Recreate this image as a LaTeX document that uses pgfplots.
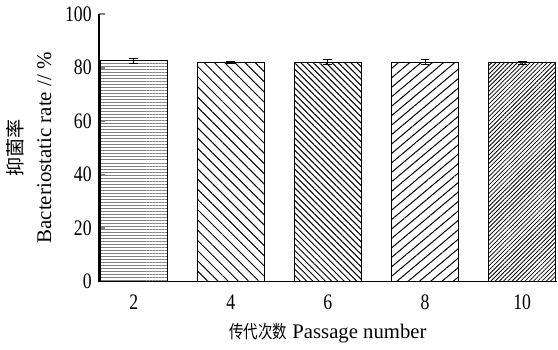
\documentclass[border=0pt]{standalone}
\usepackage{fontspec}
\setmainfont{Liberation Serif}
\newfontfamily\cjk{Noto Sans CJK SC}
\newfontfamily\cjknarrow[FakeStretch=0.8]{Noto Sans CJK SC}
\newfontfamily\myticks[FakeStretch=0.8]{Liberation Serif}
\usepackage{pgfplots}
\pgfplotsset{compat=1.18}
\usetikzlibrary{patterns.meta}
\begin{document}
\begin{tikzpicture}
\begin{axis}[
  scale only axis,
  width=228pt, height=133pt,
  xmin=-0.36, xmax=4.36,
  ymin=0, ymax=100,
  axis x line=bottom, axis y line=left,
  axis line style={line width=0.9pt,-},
  xtick={0,1,2,3,4},
  xticklabels={2,4,6,8,10},
  ytick={0,20,40,60,80,100},
  x tick style={draw=none},
  y tick style={line width=0.9pt},
  tick align=inside,
  major tick length=3pt,
  tick label style={font=\myticks\fontsize{11}{13}\selectfont},
  /pgf/number format/assume math mode=true,
  xlabel={{\cjknarrow\fontsize{9}{10}\selectfont 传代次数} Passage number},
  ylabel={{\cjk\fontsize{9.5}{12}\selectfont 抑菌率}\\[1pt]Bacteriostatic rate // \%},
  ylabel style={align=center, font=\fontsize{10.4}{13}\selectfont},
  xlabel style={font=\fontsize{10.3}{12}\selectfont},
  ybar, bar width=0.69, bar shift=0pt,
  every axis plot/.append style={draw=black, line width=0.5pt},
  error bars/error bar style={line width=0.5pt},
  error bars/error mark options={rotate=90, mark size=2.2pt, line width=0.5pt},
]
\addplot[pattern={Lines[angle=0,distance=1.5pt,line width=0.3pt]}, pattern color=gray,
  error bars/.cd, y dir=both, y explicit]
  coordinates {(0,82.6) +- (0,0.9)};
\addplot[pattern={Lines[angle=-45,distance=3.6pt,line width=0.5pt]},
  error bars/.cd, y dir=both, y explicit]
  coordinates {(1,81.9) +- (0,0.4)};
\addplot[pattern={Lines[angle=-45,distance=2.2pt,line width=0.5pt]},
  error bars/.cd, y dir=both, y explicit]
  coordinates {(2,82.0) +- (0,0.9)};
\addplot[pattern={Lines[angle=40,distance=3.6pt,line width=0.5pt]},
  error bars/.cd, y dir=both, y explicit]
  coordinates {(3,82.1) +- (0,0.9)};
\addplot[pattern={Lines[angle=45,distance=1.5pt,line width=0.4pt]},
  error bars/.cd, y dir=both, y explicit]
  coordinates {(4,81.8) +- (0,0.6)};
\end{axis}
\end{tikzpicture}
\end{document}
